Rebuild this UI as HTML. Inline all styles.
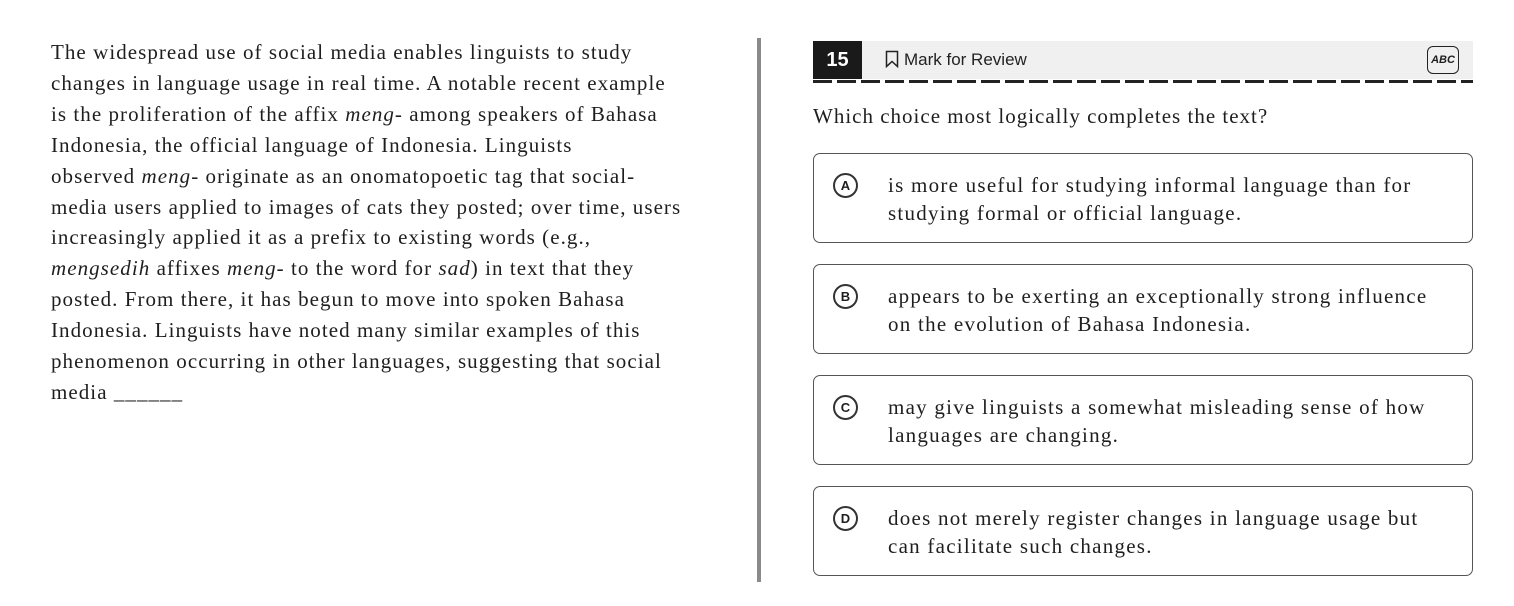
<!DOCTYPE html>
<html><head><meta charset="utf-8"><style>
body{margin:0;width:1514px;height:606px;background:#fff;position:relative;overflow:hidden;font-family:"Liberation Serif","DejaVu Serif",serif;color:#1e1e1e}
.passage{position:absolute;left:51px;top:37px;width:680px;font-size:21px;letter-spacing:1.05px;line-height:30.9px;white-space:nowrap}
.divider{position:absolute;left:757px;top:38px;width:4px;height:544px;background:#8a8a8a}
.hdr{position:absolute;left:813px;top:41px;width:660px;height:38px;background:#f0f0f0}
.num{position:absolute;left:813px;top:41px;width:49px;height:38px;background:#1a1a1a;color:#fff;font:bold 20px "Liberation Sans",sans-serif;line-height:38px;text-align:center}
.mark{position:absolute;left:885px;top:50px;font:17px "Liberation Sans",sans-serif;color:#222}
.dash{position:absolute;left:813px;top:80px;width:660px;height:3px;background:repeating-linear-gradient(90deg,#222 0 19px,transparent 19px 24px)}
.abc{position:absolute;left:1427px;top:46px;width:32px;height:28px;border:1.5px solid #222;border-radius:6px;font:bold italic 11px "Liberation Sans",sans-serif;line-height:26px;text-align:center;box-sizing:border-box}
.q{position:absolute;left:813px;top:104px;font-size:21px;letter-spacing:1px}
.opt{position:absolute;left:813px;width:660px;height:90px;border:1.3px solid #555;border-radius:7px;box-sizing:border-box}
.circ{position:absolute;left:19px;top:19px;width:25px;height:25px;border:2px solid #333;border-radius:50%;box-sizing:border-box;font:bold 13px "Liberation Sans",sans-serif;line-height:21px;text-align:center}
.ot{position:absolute;left:74px;top:17px;font-size:21px;letter-spacing:1.25px;line-height:28px;white-space:nowrap}
</style></head><body>
<div class="passage">The widespread use of social media enables linguists to study<br>changes in language usage in real time. A notable recent example<br>is the proliferation of the affix <i>meng</i>- among speakers of Bahasa<br>Indonesia, the official language of Indonesia. Linguists<br>observed <i>meng</i>- originate as an onomatopoetic tag that social-<br>media users applied to images of cats they posted; over time, users<br>increasingly applied it as a prefix to existing words (e.g.,<br><i>mengsedih</i> affixes <i>meng</i>- to the word for <i>sad</i>) in text that they<br>posted. From there, it has begun to move into spoken Bahasa<br>Indonesia. Linguists have noted many similar examples of this<br>phenomenon occurring in other languages, suggesting that social<br>media ______</div>
<div class="divider"></div>
<div class="hdr"></div>
<div class="num">15</div>
<div class="mark"><svg width="14" height="18" style="vertical-align:-3px;margin-right:5px"><path d="M1.5 1.5h11v15l-5.5-5-5.5 5z" fill="none" stroke="#222" stroke-width="1.5"/></svg>Mark for Review</div>
<div class="abc">ABC</div>
<div class="dash"></div>
<div class="q">Which choice most logically completes the text?</div>
<div class="opt" style="top:153px"><div class="circ">A</div><div class="ot">is more useful for studying informal language than for<br>studying formal or official language.</div></div>
<div class="opt" style="top:264px"><div class="circ">B</div><div class="ot">appears to be exerting an exceptionally strong influence<br>on the evolution of Bahasa Indonesia.</div></div>
<div class="opt" style="top:375px"><div class="circ">C</div><div class="ot">may give linguists a somewhat misleading sense of how<br>languages are changing.</div></div>
<div class="opt" style="top:486px"><div class="circ">D</div><div class="ot">does not merely register changes in language usage but<br>can facilitate such changes.</div></div>
</body></html>
